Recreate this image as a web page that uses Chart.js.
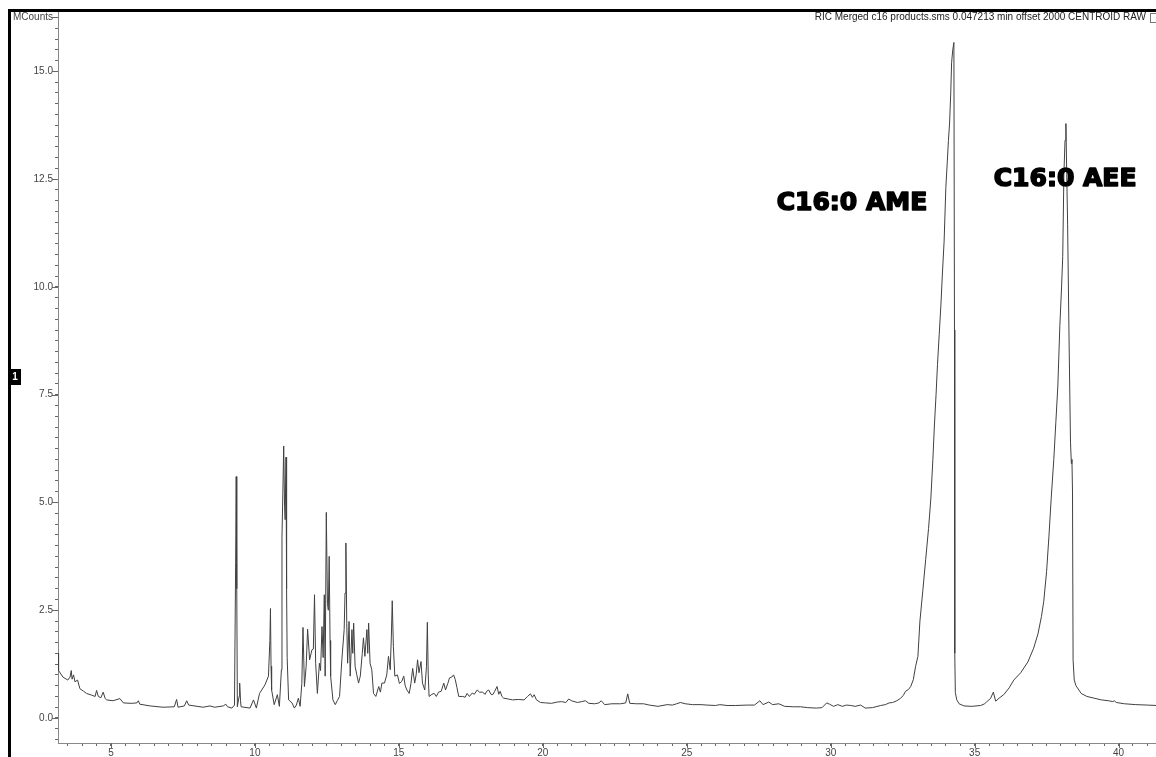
<!DOCTYPE html>
<html>
<head>
<meta charset="utf-8">
<script src="https://cdn.jsdelivr.net/npm/chart.js@4.4.1/dist/chart.umd.min.js"></script>
<style>
  html, body { margin: 0; padding: 0; background: #fff; }
  #wrap { width: 1156px; height: 757px; }
</style>
</head>
<body>
<div id="wrap"><canvas id="ric" width="1156" height="757"></canvas></div>
<script>
// retention time (min) and intensity (MCounts)
var times = [
  3.16, 3.18, 3.33, 3.50, 3.58, 3.62, 3.65, 3.70, 3.75, 3.84, 3.92, 4.05, 4.15, 4.33, 4.45, 4.50,
  4.56, 4.65, 4.73, 4.80, 4.85, 5.07, 5.31, 5.43, 5.70, 5.90, 5.95, 6.00, 6.36, 6.81, 7.20, 7.28,
  7.33, 7.55, 7.63, 7.70, 8.20, 8.44, 8.60, 8.90, 8.99, 9.05, 9.20, 9.29, 9.33, 9.35, 9.37, 9.39,
  9.45, 9.47, 9.50, 9.52, 9.83, 9.95, 10.05, 10.16, 10.35, 10.47, 10.52, 10.54, 10.56, 10.58, 10.67, 10.78,
  10.85, 10.92, 10.94, 10.97, 11.00, 11.03, 11.05, 11.08, 11.10, 11.12, 11.17, 11.29, 11.37, 11.44, 11.51, 11.57,
  11.63, 11.67, 11.72, 11.78, 11.83, 11.90, 11.98, 12.03, 12.07, 12.11, 12.17, 12.24, 12.28, 12.33, 12.37, 12.41,
  12.44, 12.48, 12.52, 12.55, 12.58, 12.61, 12.63, 12.71, 12.79, 12.86, 12.94, 13.02, 13.10, 13.13, 13.16, 13.19,
  13.22, 13.27, 13.31, 13.37, 13.40, 13.43, 13.48, 13.54, 13.60, 13.66, 13.73, 13.77, 13.82, 13.89, 13.92, 13.95,
  14.00, 14.06, 14.12, 14.20, 14.30, 14.36, 14.41, 14.50, 14.58, 14.64, 14.70, 14.74, 14.77, 14.81, 14.86, 14.95,
  15.02, 15.10, 15.17, 15.22, 15.28, 15.36, 15.42, 15.48, 15.55, 15.60, 15.65, 15.70, 15.77, 15.82, 15.90, 15.96,
  15.99, 16.02, 16.05, 16.15, 16.23, 16.30, 16.38, 16.47, 16.56, 16.62, 16.70, 16.76, 16.84, 16.90, 16.96, 17.02,
  17.08, 17.22, 17.30, 17.37, 17.45, 17.55, 17.62, 17.72, 17.80, 17.90, 18.00, 18.05, 18.12, 18.20, 18.26, 18.33,
  18.41, 18.47, 18.52, 18.58, 18.64, 18.80, 18.95, 19.15, 19.35, 19.47, 19.57, 19.64, 19.70, 19.78, 19.92, 20.10,
  20.30, 20.50, 20.65, 20.80, 20.90, 21.00, 21.20, 21.35, 21.48, 21.60, 21.80, 21.95, 22.03, 22.15, 22.40, 22.70,
  22.88, 22.95, 23.02, 23.25, 23.50, 23.70, 24.00, 24.32, 24.50, 24.65, 24.78, 24.95, 25.20, 25.50, 25.70, 26.00,
  26.15, 26.40, 26.70, 27.10, 27.35, 27.54, 27.65, 27.85, 27.98, 28.20, 28.40, 28.70, 28.96, 29.20, 29.50, 29.70,
  29.86, 29.96, 30.10, 30.25, 30.40, 30.55, 30.70, 30.85, 31.04, 31.20, 31.45, 31.74, 31.90, 32.03, 32.15, 32.30,
  32.43, 32.52, 32.60, 32.70, 32.78, 32.87, 32.95, 33.03, 33.10, 33.20, 33.30, 33.40, 33.48, 33.55, 33.60, 33.66,
  33.71, 33.77, 33.83, 33.88, 33.94, 34.00, 34.05, 34.09, 34.13, 34.17, 34.20, 34.24, 34.28, 34.30, 34.31, 34.33,
  34.38, 34.46, 34.63, 34.90, 35.21, 35.35, 35.44, 35.55, 35.65, 35.73, 35.85, 36.01, 36.20, 36.36, 36.60, 36.85,
  37.05, 37.20, 37.32, 37.40, 37.50, 37.58, 37.66, 37.75, 37.82, 37.89, 37.96, 38.02, 38.06, 38.10, 38.14, 38.17,
  38.20, 38.23, 38.28, 38.33, 38.36, 38.38, 38.40, 38.42, 38.46, 38.52, 38.70, 38.90, 39.15, 39.40, 39.65, 39.80,
  39.85, 39.92, 40.20, 40.60, 41.00, 41.33
];
var counts = [
  1.50, 1.10, 0.95, 0.88, 0.95, 1.10, 0.90, 1.00, 0.84, 0.88, 0.68, 0.62, 0.57, 0.53, 0.50, 0.64,
  0.50, 0.47, 0.60, 0.45, 0.42, 0.40, 0.45, 0.35, 0.34, 0.35, 0.40, 0.32, 0.28, 0.25, 0.26, 0.43,
  0.25, 0.28, 0.40, 0.30, 0.25, 0.28, 0.25, 0.28, 0.32, 0.26, 0.23, 0.30, 3.60, 5.60, 3.00, 0.26,
  0.50, 0.81, 0.40, 0.26, 0.23, 0.42, 0.23, 0.57, 0.77, 0.97, 1.80, 2.54, 1.20, 0.65, 0.31, 0.54,
  0.27, 1.12, 4.20, 5.20, 6.31, 4.90, 4.60, 6.05, 3.00, 1.40, 0.42, 0.35, 0.23, 0.30, 0.46, 0.27,
  0.80, 2.10, 0.73, 1.20, 2.06, 1.35, 1.58, 1.60, 2.86, 1.27, 0.57, 1.27, 1.10, 2.12, 1.40, 2.86,
  0.97, 4.77, 2.66, 2.50, 3.75, 1.80, 0.97, 0.42, 0.31, 0.40, 0.50, 1.35, 2.05, 2.90, 4.06, 2.20,
  1.27, 2.24, 0.97, 2.05, 1.50, 2.20, 1.20, 1.00, 0.81, 0.97, 1.50, 1.86, 1.43, 2.05, 1.50, 2.20,
  1.27, 1.12, 0.57, 0.50, 0.73, 0.60, 0.81, 0.81, 1.00, 1.43, 1.12, 1.90, 2.72, 1.66, 0.97, 1.00,
  0.80, 0.85, 0.97, 0.75, 0.65, 0.57, 0.80, 1.15, 0.81, 1.00, 1.35, 1.05, 1.31, 0.81, 0.65, 1.20,
  2.22, 1.00, 0.50, 0.55, 0.57, 0.50, 0.60, 0.62, 0.81, 0.65, 0.80, 0.93, 0.95, 1.00, 0.89, 0.70,
  0.50, 0.50, 0.48, 0.57, 0.50, 0.58, 0.55, 0.65, 0.60, 0.60, 0.55, 0.62, 0.65, 0.55, 0.54, 0.62,
  0.73, 0.55, 0.62, 0.50, 0.46, 0.44, 0.42, 0.43, 0.42, 0.50, 0.56, 0.48, 0.54, 0.42, 0.36, 0.35,
  0.34, 0.37, 0.38, 0.36, 0.44, 0.40, 0.36, 0.38, 0.40, 0.34, 0.33, 0.35, 0.40, 0.31, 0.33, 0.33,
  0.35, 0.56, 0.34, 0.33, 0.33, 0.30, 0.27, 0.31, 0.30, 0.33, 0.36, 0.33, 0.31, 0.31, 0.30, 0.29,
  0.31, 0.29, 0.29, 0.30, 0.30, 0.40, 0.31, 0.37, 0.31, 0.33, 0.27, 0.26, 0.26, 0.24, 0.23, 0.24,
  0.35, 0.32, 0.27, 0.31, 0.27, 0.30, 0.29, 0.27, 0.30, 0.23, 0.24, 0.29, 0.31, 0.35, 0.36, 0.40,
  0.46, 0.52, 0.62, 0.66, 0.73, 0.89, 1.20, 1.43, 2.25, 2.95, 3.68, 4.40, 5.10, 6.00, 6.75, 7.50,
  8.20, 8.90, 9.60, 10.30, 11.06, 12.30, 12.90, 13.40, 13.80, 14.50, 15.20, 15.50, 15.67, 9.00, 1.50, 0.59,
  0.42, 0.33, 0.28, 0.27, 0.29, 0.33, 0.39, 0.45, 0.60, 0.39, 0.46, 0.54, 0.70, 0.88, 1.05, 1.30,
  1.62, 1.95, 2.35, 2.70, 3.40, 4.20, 5.10, 6.00, 6.85, 7.70, 9.10, 10.00, 10.70, 12.60, 13.40, 13.79,
  12.60, 11.44, 8.79, 6.40, 5.90, 6.00, 5.24, 1.35, 0.88, 0.75, 0.57, 0.50, 0.46, 0.42, 0.40, 0.38,
  0.40, 0.36, 0.33, 0.31, 0.30, 0.29
];

var peakNames = ["C16:0 AME", "C16:0 AEE"];
var peakLabelTimes = [28.09, 35.63];
var peakLabelCounts = [11.79, 12.33];

var title = "RIC Merged c16 products.sms 0.047213 min offset 2000 CENTROID RAW";

var points = times.map(function (t, i) { return { x: t, y: counts[i] }; });

function isMajor(v, step) {
    return Math.abs(v / step - Math.round(v / step)) < 1e-6;
}

// frame, long major ticks, peak names, header text
var decor = {
    id: "decor",
    afterDraw: function (chart) {
        var c = chart.ctx;
        var xs = chart.scales.x, ys = chart.scales.y;
        var area = chart.chartArea;
        c.save();

        c.strokeStyle = "#666";
        c.lineWidth = 1;
        c.beginPath();
        ys.ticks.forEach(function (tk) {
            if (isMajor(tk.value, 2.5) || Math.abs(tk.value - 16.25) < 1e-6) {
                var y = Math.round(ys.getPixelForValue(tk.value)) + 0.5;
                c.moveTo(area.left - 6, y);
                c.lineTo(area.left, y);
            }
        });
        xs.ticks.forEach(function (tk) {
            if (isMajor(tk.value, 5)) {
                var x = Math.round(xs.getPixelForValue(tk.value)) + 0.5;
                c.moveTo(x, area.bottom);
                c.lineTo(x, area.bottom + 5);
            }
        });
        c.stroke();

        // black frame
        c.fillStyle = "#000";
        c.fillRect(8, 9, 1148, 3);
        c.fillRect(8, 9, 3, 748);

        // trace marker box
        c.fillRect(9, 369, 12, 16);
        c.fillStyle = "#fff";
        c.font = "bold 10px 'Liberation Sans'";
        c.textAlign = "center";
        c.textBaseline = "middle";
        c.fillText("1", 15, 377);

        // header
        c.fillStyle = "#222";
        c.font = "10px 'Liberation Sans'";
        c.textAlign = "right";
        c.fillText(title, 1146, 17);
        c.strokeStyle = "#777";
        c.strokeRect(1150.5, 13.5, 7, 9);

        // peak names, heavy weight
        c.fillStyle = "#000";
        c.strokeStyle = "#000";
        c.lineWidth = 1.6;
        c.lineJoin = "round";
        c.font = "bold 25px 'DejaVu Sans'";
        c.textAlign = "left";
        c.textBaseline = "alphabetic";
        peakNames.forEach(function (name, i) {
            var px = xs.getPixelForValue(peakLabelTimes[i]) + 1;
            var py = ys.getPixelForValue(peakLabelCounts[i]);
            c.strokeText(name, px, py);
            c.fillText(name, px, py);
        });
        c.restore();
    }
};

var ctx = document.getElementById("ric").getContext("2d");
new Chart(ctx, {
    type: "line",
    data: {
        datasets: [{
            data: points,
            borderColor: "#404040",
            borderWidth: 1,
            pointRadius: 0,
            tension: 0,
            fill: false
        }]
    },
    options: {
        responsive: false,
        animation: false,
        events: [],
        layout: { padding: { top: 11, left: 0, right: 0, bottom: 0 } },
        plugins: { legend: { display: false }, tooltip: { enabled: false } },
        scales: {
            x: {
                type: "linear",
                min: 3.16,
                max: 41.3,
                afterFit: function (s) { s.height = 14; },
                border: { color: "#888" },
                grid: { drawOnChartArea: false, tickLength: 3, color: "#666" },
                ticks: {
                    stepSize: 0.5,
                    includeBounds: false,
                    autoSkip: false,
                    maxRotation: 0,
                    padding: 1,
                    color: "#444",
                    font: { family: "'Liberation Sans'", size: 10 },
                    callback: function (v) { return isMajor(v, 5) ? String(Math.round(v)) : ""; }
                }
            },
            y: {
                type: "linear",
                min: -0.58,
                max: 16.4,
                afterFit: function (s) { s.width = 58; },
                border: { color: "#888" },
                grid: { drawOnChartArea: false, tickLength: 3, color: "#666" },
                ticks: {
                    stepSize: 0.25,
                    includeBounds: false,
                    autoSkip: false,
                    padding: 2,
                    color: "#444",
                    font: { family: "'Liberation Sans'", size: 10 },
                    callback: function (v) {
                        if (Math.abs(v - 16.25) < 1e-6) return "MCounts";
                        return isMajor(v, 2.5) ? v.toFixed(1) : "";
                    }
                }
            }
        }
    },
    plugins: [decor]
});
</script>
</body>
</html>
